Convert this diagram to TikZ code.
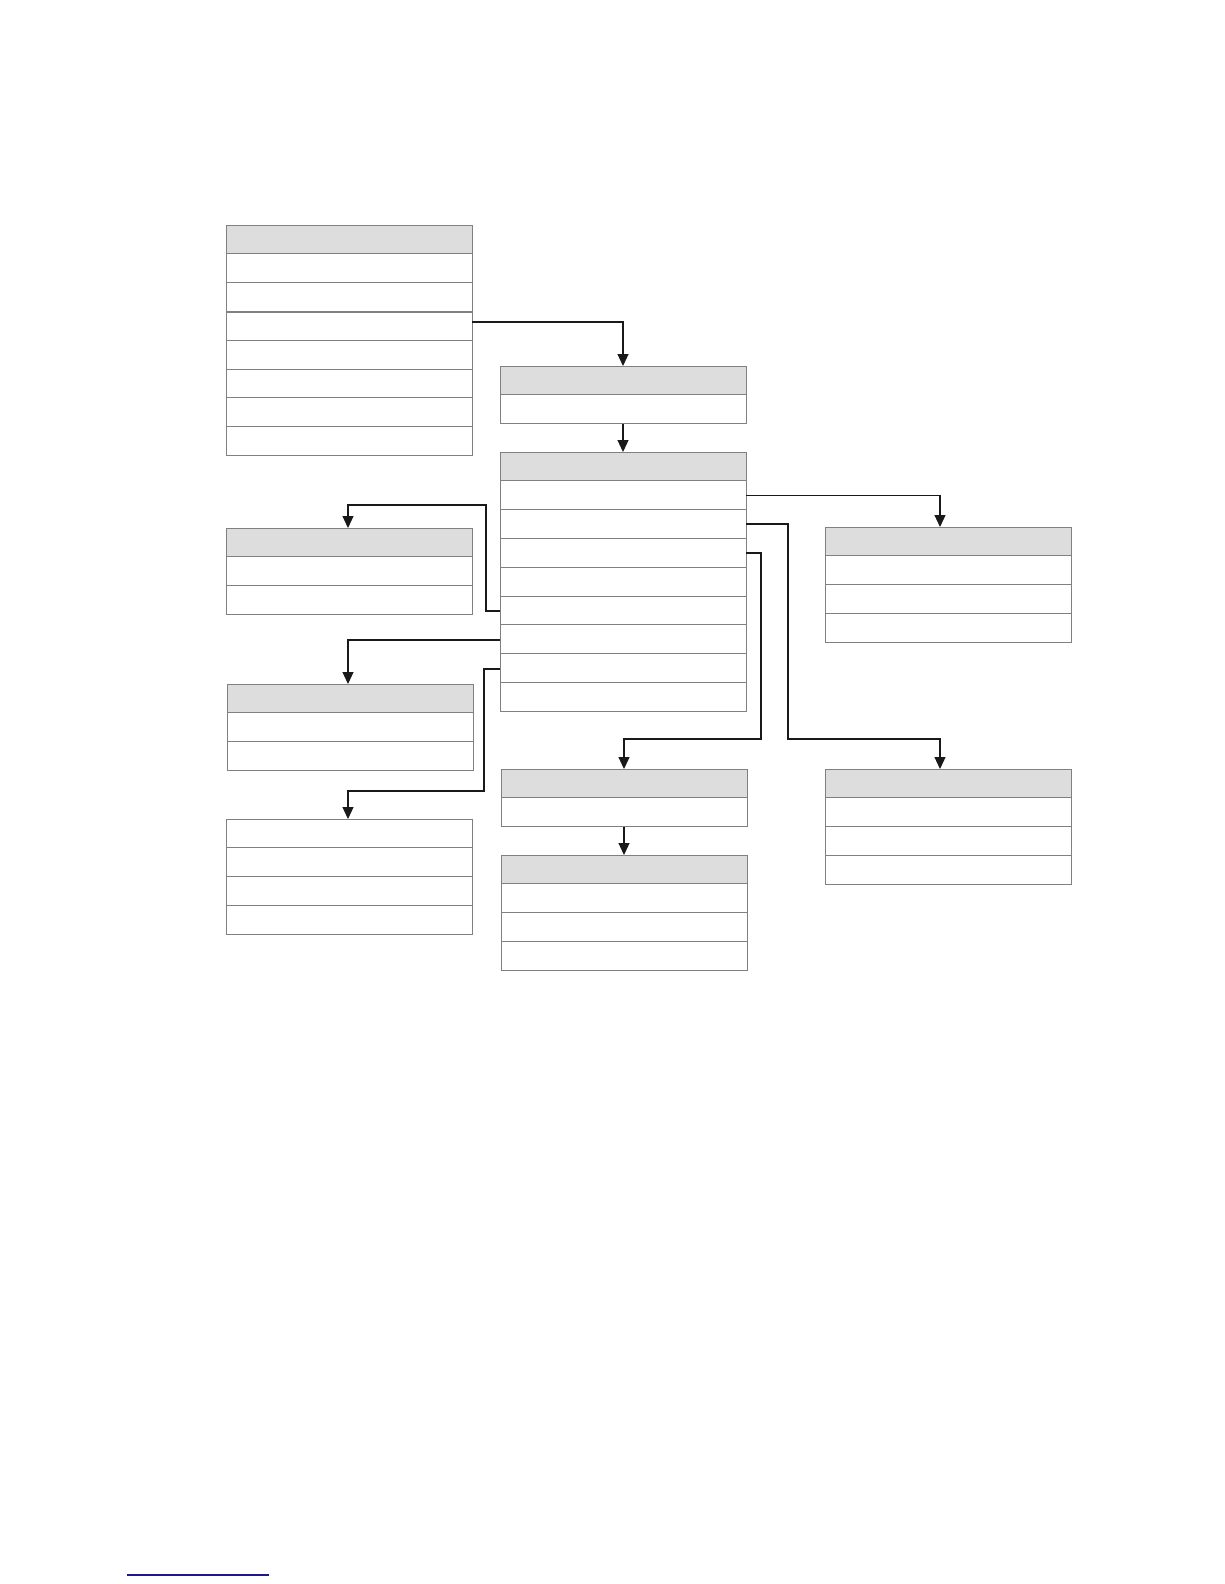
\documentclass[tikz,border=0pt]{standalone}
\usetikzlibrary{arrows.meta,calc}
\definecolor{hdrgray}{HTML}{DDDDDD}
\definecolor{bordergray}{HTML}{808080}
\definecolor{linkblue}{HTML}{1A1A8C}
\tikzset{
  tbox/.style={inner sep=0pt, outer sep=0pt, minimum width=246pt},
  hdr/.style={fill=hdrgray},
  rowline/.style={draw=bordergray, line width=1pt},
  tborder/.style={draw=bordergray, line width=1pt},
  conn/.style={draw=black!90, line width=1.2pt, -{Triangle[length=12pt,width=11pt]}},
}
% name, x, y (top-left), total rows, header (1/0)
\newcommand\umltable[5]{%
  \node[tbox, minimum height=#4*28.8pt, anchor=north west] (#1) at (#2,#3) {};
  \ifnum#5=1 \fill[hdr] (#1.north west) rectangle ([yshift=-28.8pt]#1.north east);\fi
  \pgfmathtruncatemacro\umlnlast{#4-1}%
  \foreach \k in {1,...,\umlnlast}{%
    \draw[rowline] ([yshift=-\k*28.8pt]#1.north west) -- ([yshift=-\k*28.8pt]#1.north east);
  }%
  \draw[tborder] (#1.north west) rectangle (#1.south east);
}
\begin{document}
\begin{tikzpicture}[x=1pt,y=-1pt]
\fill[white] (0,0) rectangle (1224,1584);
\useasboundingbox (0,0) rectangle (1224,1584);

\umltable{A}{226}{225}{8}{1}
\draw[draw=bordergray, line width=2pt] ([yshift=-86.6pt]A.north west) -- ([yshift=-86.6pt]A.north east);
\umltable{B}{500}{366}{2}{1}
\umltable{C}{500}{452}{9}{1}
\umltable{D}{226}{528}{3}{1}
\umltable{I}{227}{684}{3}{1}
\umltable{J}{226}{819}{4}{0}
\umltable{E}{825}{527}{4}{1}
\umltable{G}{825}{769}{4}{1}
\umltable{F}{501}{769}{2}{1}
\umltable{H}{501}{855}{4}{1}

% bend points
\coordinate (d1) at (486,505);
\coordinate (j1) at (484,791);
\coordinate (g1) at (788,739);
\coordinate (f1) at (761,739);

% connectors
\draw[conn] ([yshift=-97pt]A.north east) -| (B.north);
\draw[conn] (B.south) -- (C.north);
\draw[conn] ([yshift=-43.5pt]C.north east) -| ([xshift=-8pt]E.north);
\draw[conn] ([yshift=-72pt]C.north east) -| (g1) -| ([xshift=-8pt]G.north);
\draw[conn] ([yshift=-101pt]C.north east) -| (f1) -| (F.north);
\draw[conn] (F.south) -- (H.north);
\draw[conn] ([yshift=-159pt]C.north west) -| (d1) -| ([xshift=-1pt]D.north);
\draw[conn] ([yshift=-188pt]C.north west) -| ([xshift=-2pt]I.north);
\draw[conn] ([yshift=-217pt]C.north west) -| (j1) -| ([xshift=-1pt]J.north);

% footnote rule
\draw[linkblue, line width=1.3pt] (127,1575) -- (269,1575);
\end{tikzpicture}
\end{document}
